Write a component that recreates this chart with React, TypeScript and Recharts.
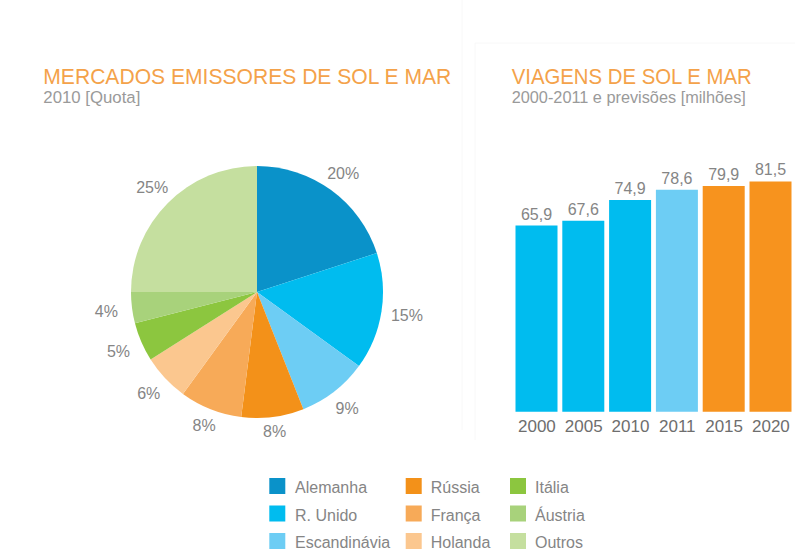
import React from "react";
import { PieChart, Pie, Cell, BarChart, Bar, XAxis, YAxis, LabelList } from "recharts";

const marketNames = ["Alemanha", "R. Unido", "Escandinávia", "Rússia", "França", "Holanda", "Itália", "Áustria", "Outros"];
const marketShares = [20, 15, 9, 8, 8, 6, 5, 4, 25];
const marketColors = ["#0a92c9", "#00bcef", "#6dcdf4", "#f39119", "#f7aa58", "#fbc78f", "#8cc63f", "#a8d27b", "#c5df9f"];

const tripYears = ["2000", "2005", "2010", "2011", "2015", "2020"];
const tripValues = [65.9, 67.6, 74.9, 78.6, 79.9, 81.5];
const tripColors = ["#00bcef", "#00bcef", "#00bcef", "#6dcdf4", "#f7931e", "#f7931e"];

const pieData = marketNames.map((name, i) => ({ name, value: marketShares[i] }));
const barData = tripYears.map((year, i) => ({ year, value: tripValues[i] }));

const FONT = "'Liberation Sans', Arial, Helvetica, sans-serif";
const RADIAN = Math.PI / 180;

const renderPieLabel = (props: any) => {
  const { cx, cy, midAngle, outerRadius, value } = props;
  const c = Math.cos(-midAngle * RADIAN);
  const s = Math.sin(-midAngle * RADIAN);
  const r = outerRadius + 13 + 13 * Math.abs(c);
  return (
    <text
      x={cx + r * c}
      y={cy + r * s}
      textAnchor="middle"
      dominantBaseline="central"
      fill="#858585"
      fontSize={16}
      fontFamily={FONT}
    >
      {`${value}%`}
    </text>
  );
};

const fmt = (v: any) => String(v).replace(".", ",");

export default function App() {
  return (
    <div style={{ position: "absolute", left: 0, top: 0, width: 795, height: 552, background: "#fff", overflow: "hidden", fontFamily: FONT }}>
      <svg width={795} height={552} style={{ position: "absolute", left: 0, top: 0 }}>
        <line x1={462} y1={0} x2={462} y2={430} stroke="#f8f8f8" strokeWidth={1} />
        <line x1={475} y1={43} x2={795} y2={43} stroke="#f8f8f8" strokeWidth={1} />
        <line x1={475} y1={43} x2={475} y2={440} stroke="#f8f8f8" strokeWidth={1} />
        <text x={43.3} y={84} fill="#f4a24a" fontSize={22} fontFamily={FONT} textLength={408} lengthAdjust="spacingAndGlyphs">
          MERCADOS EMISSORES DE SOL E MAR
        </text>
        <text x={43.3} y={103.3} fill="#9a9a9a" fontSize={16.8} fontFamily={FONT}>
          2010 [Quota]
        </text>
        <text x={511.7} y={84} fill="#f4a24a" fontSize={22} fontFamily={FONT} textLength={240} lengthAdjust="spacingAndGlyphs">
          VIAGENS DE SOL E MAR
        </text>
        <text x={511.7} y={103.3} fill="#9a9a9a" fontSize={16.3} fontFamily={FONT}>
          2000-2011 e previsões [milhões]
        </text>
        {marketNames.map((name, i) => {
          const col = Math.floor(i / 3);
          const row = i % 3;
          const sqX = [269.3, 405.7, 510][col];
          const txX = [295, 430.7, 535][col];
          const top = 478 + row * 27.5;
          return (
            <g key={name}>
              <rect x={sqX} y={top} width={16} height={16} fill={marketColors[i]} />
              <text x={txX} y={top + 15} fill="#858585" fontSize={16} fontFamily={FONT}>
                {name}
              </text>
            </g>
          );
        })}
      </svg>

      <div style={{ position: "absolute", left: 0, top: 0 }}>
        <PieChart width={460} height={460} margin={{ top: 0, right: 0, bottom: 0, left: 0 }}>
          <Pie
            data={pieData}
            dataKey="value"
            nameKey="name"
            cx={257}
            cy={292}
            outerRadius={126}
            startAngle={90}
            endAngle={-270}
            stroke="none"
            label={renderPieLabel}
            labelLine={false}
            isAnimationActive={false}
          >
            {pieData.map((d, i) => (
              <Cell key={d.name} fill={marketColors[i]} />
            ))}
          </Pie>
        </PieChart>
      </div>

      <div style={{ position: "absolute", left: 500, top: 140 }}>
        <BarChart width={295} height={310} data={barData} margin={{ top: 17.45, right: 0.7, bottom: 8.3, left: 13.5 }}>
          <XAxis
            dataKey="year"
            axisLine={false}
            tickLine={false}
            height={30}
            interval={0}
            tick={{ fill: "#6e6e6e", fontSize: 17, fontFamily: FONT }}
          />
          <YAxis hide domain={[0, 90]} />
          <Bar dataKey="value" barSize={42} isAnimationActive={false}>
            {barData.map((d, i) => (
              <Cell key={d.year} fill={tripColors[i]} />
            ))}
            <LabelList
              dataKey="value"
              position="top"
              offset={6}
              formatter={fmt}
              style={{ fill: "#858585", fontSize: 16, fontFamily: FONT }}
            />
          </Bar>
        </BarChart>
      </div>
    </div>
  );
}
